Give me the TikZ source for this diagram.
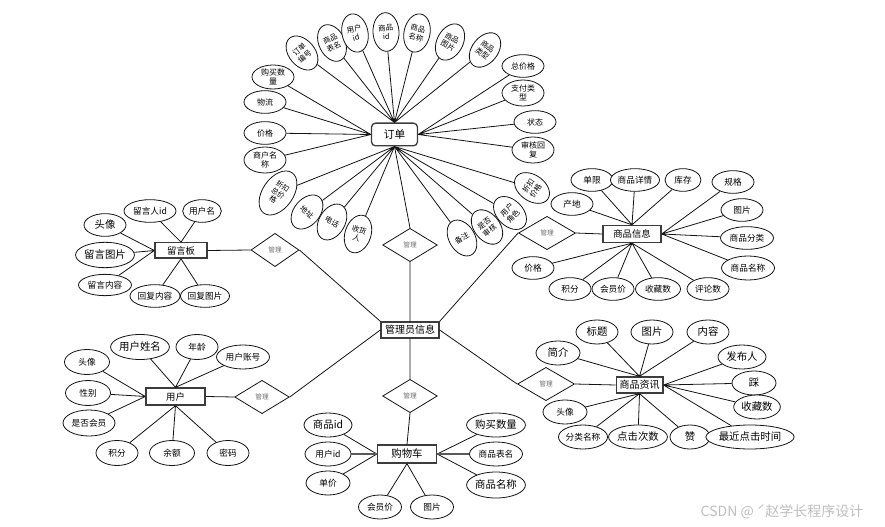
\documentclass[tikz,border=0pt]{standalone}
\usepackage{fontspec}
\setmainfont{Noto Sans CJK SC}
\usetikzlibrary{shapes.geometric}
\definecolor{erline}{RGB}{20,20,20}
\definecolor{entborder}{RGB}{60,60,60}
\definecolor{relgray}{RGB}{110,110,110}
\definecolor{markgray}{RGB}{190,190,190}
\tikzset{
  entity/.style={draw=entborder, line width=1pt, fill=white, inner sep=1pt, font=\fontsize{7}{8}\selectfont},
  attr/.style={ellipse, draw=erline, line width=0.6pt, fill=white, inner sep=0pt, minimum width=31.5pt, minimum height=17pt, align=center, font=\fontsize{6.5}{7}\selectfont},
  bigattr/.style={attr, font=\fontsize{7.8}{9}\selectfont},
  spoke/.style={attr, minimum width=19.5pt, minimum height=29pt, font=\fontsize{5.6}{6.6}\selectfont},
  rel/.style={diamond, draw=erline, line width=0.6pt, fill=white, inner sep=0pt, minimum width=41pt, minimum height=25pt, text=relgray, font=\fontsize{5}{6}\selectfont},
  link/.style={erline, line width=0.6pt}
}

\begin{document}
\begin{tikzpicture}[x=0.75pt, y=-0.75pt]
  \useasboundingbox (0,0) rectangle (885,527);
  % Entities
  \node[entity, rounded corners=3pt, minimum width=34.5pt, minimum height=17pt, font=\fontsize{8}{9}\selectfont] (order) at (394.5,134.5) {订单};
  \node[entity, minimum width=39pt, minimum height=11.5pt] (board) at (181,250.5) {留言板};
  \node[entity, minimum width=43.5pt, minimum height=12pt, font=\fontsize{7.5}{8}\selectfont] (admin) at (410,330) {管理员信息};
  \node[entity, minimum width=43.5pt, minimum height=12.75pt] (goods) at (632,234) {商品信息};
  \node[entity, minimum width=44.25pt, minimum height=12.75pt] (user) at (175.5,396.5) {用户};
  \node[entity, minimum width=44.25pt, minimum height=13.5pt, font=\fontsize{7.8}{9}\selectfont] (cart) at (407,454) {购物车};
  \node[entity, minimum width=35pt, minimum height=12pt, font=\fontsize{7.5}{8}\selectfont] (news) at (639.5,385) {商品资讯};

  % Relations
  \node[rel] (relorder) at (410,245) {管理};
  \node[rel, minimum width=36pt] (relboard) at (275,250) {管理};
  \node[rel, minimum width=42.75pt] (relgoods) at (547,233) {管理};
  \node[rel] (reluser) at (262,397) {管理};
  \node[rel] (relcart) at (410,396) {管理};
  \node[rel, minimum width=42.75pt] (relnews) at (546,384) {管理};

  % Order attributes
  \node[spoke, rotate=40] (ordno) at (302,53) {订单\\编号};
  \node[spoke, rotate=26] (ordtab) at (332,43) {商品\\表名};
  \node[spoke, rotate=12] (orduid) at (355,33) {用户\\id};
  \node[spoke, rotate=3] (ordgid) at (386,32) {商品\\id};
  \node[spoke, rotate=-12] (ordgname) at (417,33) {商品\\名称};
  \node[spoke, rotate=-28] (ordpic) at (450,42) {商品\\图片};
  \node[spoke, rotate=-38] (ordtype) at (485,50) {商品\\类型};
  \node[attr, font=\fontsize{6}{7}\selectfont] (ordtotal) at (523,66) {总价格};
  \node[attr, minimum height=19.5pt, font=\fontsize{6}{7}\selectfont] (ordpay) at (523,93) {支付类\\型};
  \node[attr, font=\fontsize{6}{7}\selectfont] (ordstate) at (535,122) {状态};
  \node[attr, minimum height=19.5pt, font=\fontsize{6}{7}\selectfont] (ordreply) at (533,150) {审核回\\复};
  \node[attr, minimum height=18pt, font=\fontsize{6}{7}\selectfont] (ordnum) at (273,77) {购买数\\量};
  \node[attr, font=\fontsize{6}{7}\selectfont] (ordship) at (265,102) {物流};
  \node[attr, font=\fontsize{6}{7}\selectfont] (ordprice) at (265,133) {价格};
  \node[attr, minimum height=19.5pt, font=\fontsize{6}{7}\selectfont] (ordshop) at (265,160) {商户名\\称};
  \node[spoke, rotate=-35, minimum width=23pt, minimum height=37pt, font=\fontsize{5.4}{6.2}\selectfont] (orddisc) at (278,193) {折扣\\总价\\格};
  \node[spoke, rotate=-40] (ordaddr) at (307,212) {地址};
  \node[spoke, rotate=-30] (ordtel) at (332,222) {电话};
  \node[spoke, rotate=-18] (ordrecv) at (358,234) {收货\\人};
  \node[spoke, rotate=30] (ordnote) at (462,238) {备注};
  \node[spoke, rotate=38] (ordcheck) at (487,227) {是否\\审核};
  \node[spoke, rotate=45] (ordrole) at (510,213) {用户\\角色};
  \node[spoke, rotate=55] (orddprice) at (532,188) {折扣\\价格};

  % Message board attributes
  \node[attr, minimum width=39pt] (bduid) at (150,211) {留言人id};
  \node[attr, minimum width=29pt] (bduname) at (202,211) {用户名};
  \node[bigattr] (bdhead) at (105,225) {头像};
  \node[bigattr, minimum width=42pt, minimum height=19pt] (bdpic) at (105,255) {留言图片};
  \node[attr, minimum width=39.75pt, minimum height=16pt] (bdtext) at (105,285) {留言内容};
  \node[attr, minimum width=37.5pt] (bdrtext) at (155,296) {回复内容};
  \node[attr] (bdrpic) at (205,296) {回复图片};

  % Goods attributes
  \node[attr] (gdlimit) at (592,180) {单限};
  \node[attr] (gddetail) at (635,180) {商品详情};
  \node[attr, minimum width=27pt] (gdstock) at (683,180) {库存};
  \node[attr] (gdspec) at (733,182) {规格};
  \node[attr] (gdorigin) at (572,204) {产地};
  \node[attr] (gdpic) at (742,210) {图片};
  \node[attr, minimum width=39.75pt] (gdcat) at (747,238) {商品分类};
  \node[attr, minimum width=39.75pt, minimum height=18pt] (gdname) at (748,268) {商品名称};
  \node[attr] (gdprice) at (533,268) {价格};
  \node[attr] (gdpoint) at (570,289) {积分};
  \node[attr] (gdvip) at (613,289) {会员价};
  \node[attr, minimum width=33.75pt] (gdfav) at (658,289) {收藏数};
  \node[attr] (gdcomm) at (708,289) {评论数};

  % User attributes
  \node[bigattr, minimum width=42.75pt, minimum height=18.75pt] (usname) at (140,347) {用户姓名};
  \node[attr, minimum height=18.75pt] (usage) at (197,347) {年龄};
  \node[attr, minimum width=39.75pt, minimum height=18pt] (usacct) at (243,357) {用户账号};
  \node[attr, minimum width=33.75pt, minimum height=18.75pt] (ushead) at (87,362) {头像};
  \node[attr, minimum width=33.75pt, minimum height=18.75pt] (ussex) at (88,393) {性别};
  \node[attr, minimum width=39pt, minimum height=19.5pt] (usvip) at (89,423) {是否会员};
  \node[attr, minimum height=18.75pt] (uspoint) at (117,453) {积分};
  \node[attr, minimum width=33.75pt, minimum height=18.75pt] (usbal) at (172,453) {余额};
  \node[attr, minimum height=18.75pt] (uspwd) at (228,453) {密码};

  % Cart attributes
  \node[bigattr, minimum width=36pt, minimum height=18pt] (ctgid) at (328,425) {商品id};
  \node[attr, minimum width=34.5pt, minimum height=18pt] (ctuid) at (328,454) {用户id};
  \node[attr, minimum width=33pt, minimum height=18pt] (ctprice) at (328,483) {单价};
  \node[attr, minimum width=32.25pt, minimum height=18pt] (ctvip) at (380,507) {会员价};
  \node[attr, minimum width=32.25pt, minimum height=18pt] (ctpic) at (432,507) {图片};
  \node[bigattr, minimum width=43.5pt, minimum height=18pt] (ctnum) at (496,425) {购买数量};
  \node[attr, minimum width=39.75pt, minimum height=18pt] (cttab) at (496,454) {商品表名};
  \node[bigattr, minimum width=43.5pt, minimum height=19.5pt] (ctgname) at (496,485) {商品名称};

  % News attributes
  \node[bigattr, minimum height=18pt] (nwtitle) at (597,332) {标题};
  \node[bigattr, minimum height=18pt] (nwpic) at (652,332) {图片};
  \node[bigattr, minimum height=18pt] (nwtext) at (708,332) {内容};
  \node[bigattr, minimum width=33pt, minimum height=18pt] (nwbrief) at (558,353) {简介};
  \node[bigattr, minimum width=36pt, minimum height=18pt] (nwauthor) at (742,357) {发布人};
  \node[bigattr, minimum width=33pt, minimum height=18pt] (nwdown) at (754,383) {踩};
  \node[bigattr, minimum width=35pt, minimum height=18pt] (nwfav) at (757,407) {收藏数};
  \node[attr, minimum width=33pt, minimum height=18pt] (nwhead) at (565,412) {头像};
  \node[attr, minimum width=36.75pt, minimum height=18pt] (nwcat) at (583,437) {分类名称};
  \node[bigattr, minimum width=43.5pt, minimum height=18pt] (nwclick) at (638,437) {点击次数};
  \node[bigattr, minimum width=30pt, minimum height=18pt] (nwup) at (690,437) {赞};
  \node[bigattr, minimum width=56pt, minimum height=18pt] (nwtime) at (750,437) {最近点击时间};

  % Relation links
  \draw[link] (order.south) -- (relorder.north) (relorder.south) -- (admin.north);
  \draw[link] (board.east) -- (relboard.west) (relboard.east) -- (admin.north west);
  \draw[link] (admin.north east) -- (relgoods.west) (relgoods.east) -- (goods.west);
  \draw[link] (user.east) -- (reluser.west) (reluser.east) -- (admin.west);
  \draw[link] (admin.south) -- (relcart.north) (relcart.south) -- (cart.north);
  \draw[link] (admin.east) -- (relnews.west) (relnews.east) -- (news.west);

  % Order links
  \draw[link] (ordno) -- (order.north) (ordtab) -- (order.north) (orduid) -- (order.north)
    (ordgid) -- (order.north) (ordgname) -- (order.north) (ordpic) -- (order.north) (ordtype) -- (order.north);
  \draw[link] (ordnum) -- (order.west) (ordship) -- (order.west) (ordprice) -- (order.west) (ordshop) -- (order.west);
  \draw[link] (ordtotal) -- (order.east) (ordpay) -- (order.east) (ordstate) -- (order.east) (ordreply) -- (order.east);
  \draw[link] (orddisc) -- (order.south) (ordaddr) -- (order.south) (ordtel) -- (order.south) (ordrecv) -- (order.south)
    (ordnote) -- (order.south) (ordcheck) -- (order.south) (ordrole) -- (order.south) (orddprice) -- (order.south);

  % Board links
  \draw[link] (bduid) -- (board.north) (bduname) -- (board.north) (bdhead) -- (board.west)
    (bdpic) -- (board.west) (bdtext) -- (board.west) (bdrtext) -- (board.south) (bdrpic) -- (board.south);

  % Goods links
  \draw[link] (gdlimit) -- (goods.north) (gddetail) -- (goods.north) (gdstock) -- (goods.north) (gdorigin) -- (goods.north);
  \draw[link] (gdspec) -- (goods.east) (gdpic) -- (goods.east) (gdcat) -- (goods.east) (gdname) -- (goods.east);
  \draw[link] (gdprice) -- (goods.south) (gdpoint) -- (goods.south) (gdvip) -- (goods.south)
    (gdfav) -- (goods.south) (gdcomm) -- (goods.south);

  % User links
  \draw[link] (usname) -- (user.north) (usage) -- (user.north) (usacct) -- (user.north);
  \draw[link] (ushead) -- (user.west) (ussex) -- (user.west) (usvip) -- (user.west);
  \draw[link] (uspoint) -- (user.south) (usbal) -- (user.south) (uspwd) -- (user.south);

  % Cart links
  \draw[link] (ctgid) -- (cart.west) (ctprice) -- (cart.west) (ctnum) -- (cart.east) (ctgname) -- (cart.east)
    (ctvip) -- (cart.south) (ctpic) -- (cart.south);
  \draw[link, line width=1.4pt, black!65] (ctuid) -- (cart.west) (cttab) -- (cart.east);

  % News links
  \draw[link] (nwtitle) -- (news.north) (nwpic) -- (news.north) (nwtext) -- (news.north) (nwbrief) -- (news.north);
  \draw[link] (nwauthor) -- (news.east) (nwdown) -- (news.east) (nwfav) -- (news.east) (nwtime) -- (news.east);
  \draw[link] (nwhead) -- (news.south) (nwcat) -- (news.south) (nwclick) -- (news.south) (nwup) -- (news.south);

  % Watermark
  \node[text=markgray, font=\fontsize{10.5}{12}\selectfont] (mark) at (782,512) {CSDN @ ˊ赵学长程序设计};
\end{tikzpicture}
\end{document}
